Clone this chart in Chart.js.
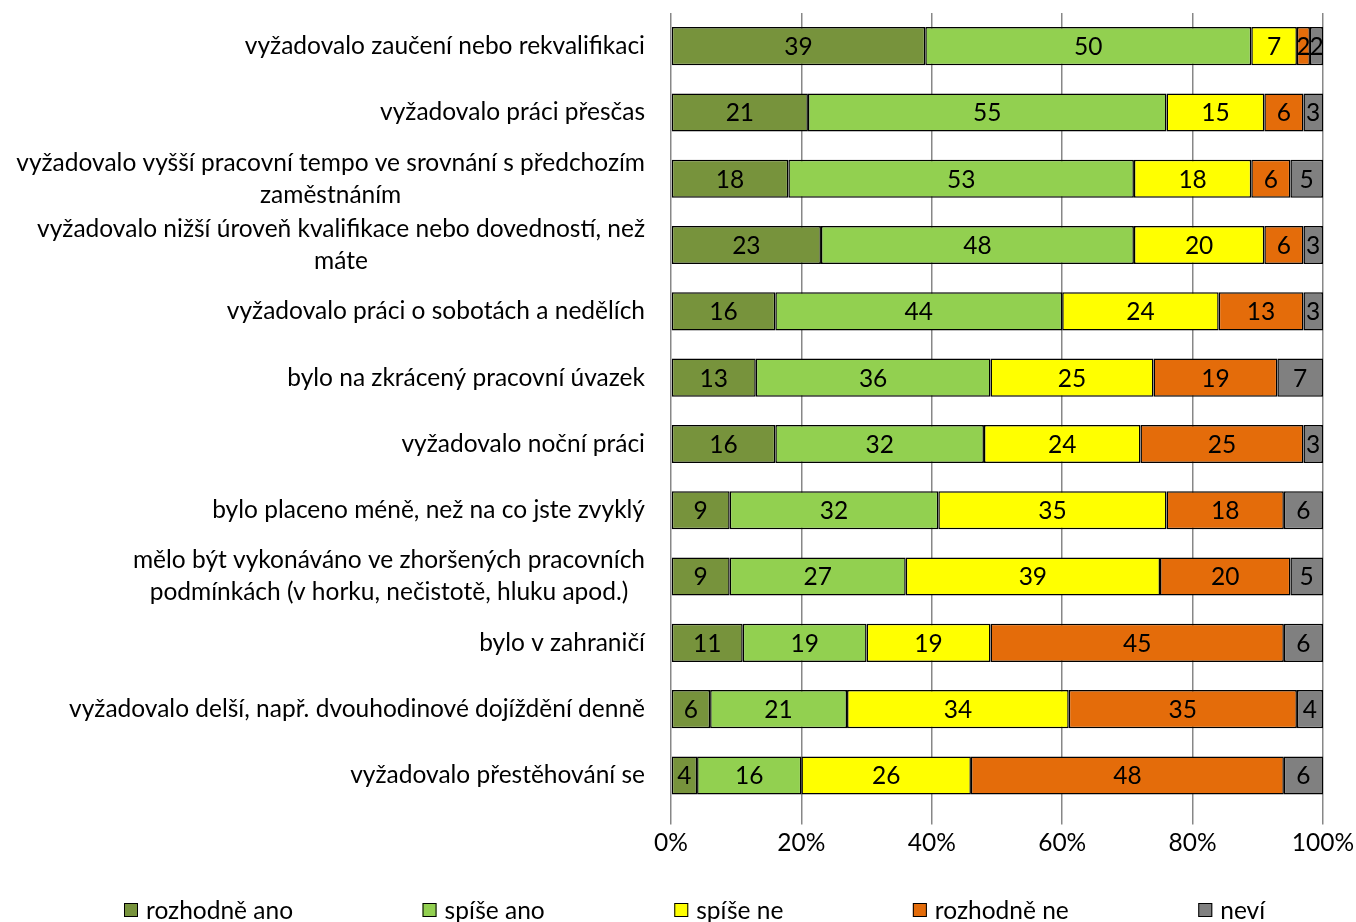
<!DOCTYPE html>
<html>
<head>
<meta charset="utf-8">
<script src="https://cdn.jsdelivr.net/npm/chart.js@4/dist/chart.umd.min.js"></script>
<style>
html,body{margin:0;padding:0;background:#fff;}
#wrap{width:1356px;height:922px;}
</style>
</head>
<body>
<div id="wrap"><canvas id="c" width="1356" height="922"></canvas></div>
<script>
const categories = [
  ["vyžadovalo zaučení nebo rekvalifikaci"],
  ["vyžadovalo práci přesčas"],
  ["vyžadovalo vyšší pracovní tempo ve srovnání s předchozím", "zaměstnáním"],
  ["vyžadovalo nižší úroveň kvalifikace nebo dovedností, než", "máte"],
  ["vyžadovalo práci o sobotách a nedělích"],
  ["bylo na zkrácený pracovní úvazek"],
  ["vyžadovalo noční práci"],
  ["bylo placeno méně, než na co jste zvyklý"],
  ["mělo být vykonáváno ve zhoršených pracovních", "podmínkách (v horku, nečistotě, hluku apod.)"],
  ["bylo v zahraničí"],
  ["vyžadovalo delší, např. dvouhodinové dojíždění denně"],
  ["vyžadovalo přestěhování se"]
];
const seriesNames = ["rozhodně ano", "spíše ano", "spíše ne", "rozhodně ne", "neví"];
const rozhodneAno = [39, 21, 18, 23, 16, 13, 16, 9, 9, 11, 6, 4];
const spiseAno    = [50, 55, 53, 48, 44, 36, 32, 32, 27, 19, 21, 16];
const spiseNe     = [7, 15, 18, 20, 24, 25, 24, 35, 39, 19, 34, 26];
const rozhodneNe  = [2, 6, 6, 6, 13, 19, 25, 18, 20, 45, 35, 48];
const nevi        = [2, 3, 5, 3, 3, 7, 3, 6, 5, 6, 4, 6];
const xTickValues = [0, 20, 40, 60, 80, 100];
const colors = ["#77933C", "#92D050", "#FFFF00", "#E46C0A", "#808080"];

const FONT = "Lato";
const FS = 24.5;

const seriesData = [rozhodneAno, spiseAno, spiseNe, rozhodneNe, nevi];
const datasets = seriesData.map((d, i) => ({
  label: seriesNames[i],
  data: d,
  backgroundColor: colors[i],
  borderColor: "#000000",
  borderWidth: 1.5,
  borderSkipped: false,
  barPercentage: 0.575,
  categoryPercentage: 1.0
}));

const valueLabels = {
  id: "valueLabels",
  afterDatasetsDraw(chart) {
    const ctx = chart.ctx;
    ctx.save();
    ctx.font = FS + "px " + FONT;
    ctx.fillStyle = "#000";
    ctx.textAlign = "center";
    ctx.textBaseline = "middle";
    chart.data.datasets.forEach((ds, di) => {
      const meta = chart.getDatasetMeta(di);
      meta.data.forEach((el, i) => {
        const p = el.getProps(["x", "y", "base"], true);
        ctx.fillText(String(ds.data[i]), (p.x + p.base) / 2, p.y + 1);
      });
    });
    ctx.restore();
  }
};

const catLabels = {
  id: "catLabels",
  afterDraw(chart) {
    const ctx = chart.ctx;
    const ys = chart.scales.y;
    const right = chart.chartArea.left - 26;
    const lh = 32;
    ctx.save();
    ctx.font = FS + "px " + FONT;
    ctx.fillStyle = "#000";
    ctx.textAlign = "center";
    ctx.textBaseline = "middle";
    categories.forEach((lines, i) => {
      const yc = ys.getPixelForValue(i);
      const w = Math.max(...lines.map(l => ctx.measureText(l).width));
      const cx = right - w / 2;
      const y0 = yc - (lines.length - 1) * lh / 2;
      lines.forEach((l, k) => ctx.fillText(l, cx, y0 + k * lh));
    });
    ctx.restore();
  }
};

const customLegend = {
  id: "customLegend",
  afterDraw(chart) {
    const ctx = chart.ctx;
    ctx.save();
    ctx.font = FS + "px " + FONT;
    ctx.textBaseline = "middle";
    ctx.textAlign = "left";
    const gap = 129.5, box = 14, tgap = 8;
    const items = chart.data.datasets.map(ds => ({
      text: ds.label, color: ds.backgroundColor,
      w: box + tgap + ctx.measureText(ds.label).width
    }));
    let x = 124;
    const y = 910;
    items.forEach(it => {
      ctx.fillStyle = it.color;
      ctx.fillRect(x, y - box / 2, box, box);
      ctx.strokeStyle = "#000";
      ctx.lineWidth = 1;
      ctx.strokeRect(x + 0.5, y - box / 2 + 0.5, box - 1, box - 1);
      ctx.fillStyle = "#000";
      ctx.fillText(it.text, x + box + tgap, y + 1);
      x += it.w + gap;
    });
    ctx.restore();
  }
};

new Chart(document.getElementById("c"), {
  type: "bar",
  data: { labels: categories.map(c => c.join(" ")), datasets },
  options: {
    indexAxis: "y",
    responsive: false,
    animation: false,
    layout: { padding: { left: 671, right: 0, top: 13, bottom: 60 } },
    plugins: { legend: { display: false }, tooltip: { enabled: false } },
    scales: {
      x: {
        stacked: true,
        min: 0,
        max: 100,
        afterBuildTicks(scale) { scale.ticks = xTickValues.map(v => ({ value: v })); },
        afterFit(scale) { scale.paddingRight = 33; },
        ticks: {
          callback: v => v + "%",
          color: "#000",
          font: { family: FONT, size: FS },
          padding: 4,
          maxRotation: 0
        },
        grid: { color: "#878787", lineWidth: 1.5, tickLength: 16, drawTicks: true },
        border: { display: false }
      },
      y: {
        stacked: true,
        display: false,
        grid: { display: false }
      }
    }
  },
  plugins: [valueLabels, catLabels, customLegend]
});
</script>
</body>
</html>
